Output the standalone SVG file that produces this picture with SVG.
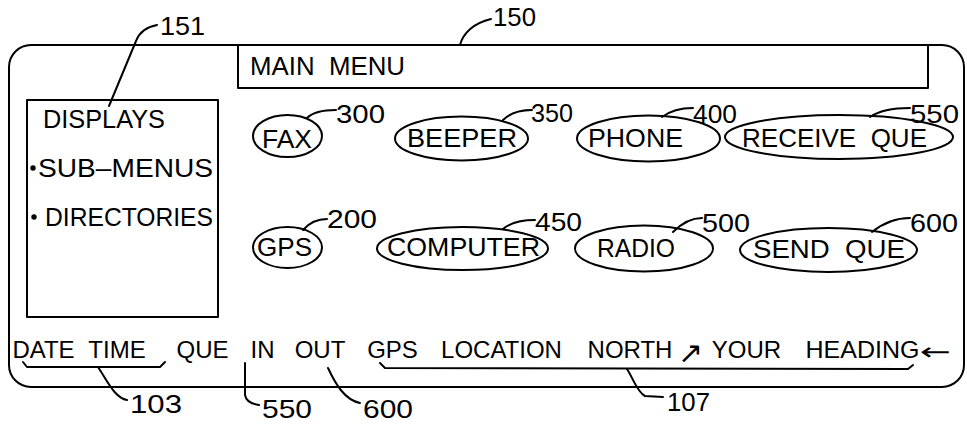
<svg xmlns="http://www.w3.org/2000/svg" width="967" height="425" viewBox="0 0 967 425">
<style>
.ln{fill:none;stroke:#000;stroke-width:2;stroke-linecap:round;stroke-linejoin:round}
.t{font-family:"Liberation Sans",Arial,sans-serif;font-size:25px;fill:#000;white-space:pre}
.b{font-family:"Liberation Sans",Arial,sans-serif;font-size:24px;fill:#000;text-anchor:middle}
.ar{font-family:"DejaVu Sans",sans-serif;fill:#000}
</style>
<rect width="967" height="425" fill="#fff"/>
<g id="screen-150">
<rect class="ln" x="9" y="45" width="955" height="342" rx="22"/>
</g>
<g id="main-menu">
<polyline class="ln" points="238,46 238,88 928,88 928,46"/>
<text class="t" x="250" y="75" textLength="155" lengthAdjust="spacingAndGlyphs">MAIN  MENU</text>
</g>
<g id="displays-151">
<rect class="ln" x="27" y="100" width="191" height="217"/>
<text class="t" x="43" y="128" textLength="122" lengthAdjust="spacingAndGlyphs">DISPLAYS</text>
<circle cx="33" cy="168" r="2.7"/>
<text class="t" x="38" y="177" textLength="175" lengthAdjust="spacingAndGlyphs">SUB–MENUS</text>
<circle cx="34" cy="217" r="2.7"/>
<text class="t" x="45" y="226" textLength="168" lengthAdjust="spacingAndGlyphs">DIRECTORIES</text>
</g>
<g id="fax-300">
<ellipse class="ln" cx="287.5" cy="136" rx="34.5" ry="21"/>
<text class="t" x="262" y="148" textLength="50" lengthAdjust="spacingAndGlyphs">FAX</text>
</g>
<g id="beeper-350">
<ellipse class="ln" cx="461.5" cy="138.5" rx="66.5" ry="22"/>
<text class="t" x="407" y="147" textLength="110" lengthAdjust="spacingAndGlyphs">BEEPER</text>
</g>
<g id="phone-400">
<ellipse class="ln" cx="648.5" cy="138.5" rx="71.5" ry="23"/>
<text class="t" x="588" y="147" textLength="95" lengthAdjust="spacingAndGlyphs">PHONE</text>
</g>
<g id="receive-que-550">
<ellipse class="ln" cx="839" cy="137" rx="114" ry="22"/>
<text class="t" x="742" y="147" textLength="185" lengthAdjust="spacingAndGlyphs">RECEIVE  QUE</text>
</g>
<g id="gps-200">
<ellipse class="ln" cx="287.5" cy="247.5" rx="34.5" ry="20.5"/>
<text class="t" x="257" y="256" textLength="55" lengthAdjust="spacingAndGlyphs">GPS</text>
</g>
<g id="computer-450">
<ellipse class="ln" cx="462.5" cy="248.5" rx="85.5" ry="21.5"/>
<text class="t" x="387" y="256" textLength="153" lengthAdjust="spacingAndGlyphs">COMPUTER</text>
</g>
<g id="radio-500">
<ellipse class="ln" cx="644" cy="248.5" rx="69" ry="23"/>
<text class="t" x="597" y="257" textLength="78" lengthAdjust="spacingAndGlyphs">RADIO</text>
</g>
<g id="send-que-600">
<ellipse class="ln" cx="828.5" cy="250" rx="88.5" ry="22"/>
<text class="t" x="753" y="258" textLength="152" lengthAdjust="spacingAndGlyphs">SEND  QUE</text>
</g>
<g id="status-bar">
<text class="b" x="43.5" y="358">DATE</text>
<text class="b" x="117" y="358">TIME</text>
<text class="b" x="202.5" y="358">QUE</text>
<text class="b" x="262.5" y="358">IN</text>
<text class="b" x="320" y="358">OUT</text>
<text class="b" x="392.5" y="358">GPS</text>
<text class="b" x="501.5" y="358">LOCATION</text>
<text class="b" x="630" y="358">NORTH</text>
<text class="ar" x="678" y="363" font-size="30">↗</text>
<text class="b" x="746.5" y="358">YOUR</text>
<text class="b" x="862.5" y="358" textLength="114" lengthAdjust="spacingAndGlyphs">HEADING</text>
<text class="ar" x="920" y="360" font-size="24" textLength="31" lengthAdjust="spacingAndGlyphs">←</text>
</g>
<g id="labels">
<text class="t" x="160" y="35" textLength="45" lengthAdjust="spacingAndGlyphs">151</text>
<text class="t" x="493" y="26" textLength="43" lengthAdjust="spacingAndGlyphs">150</text>
<text class="t" x="336" y="123" textLength="49" lengthAdjust="spacingAndGlyphs">300</text>
<text class="t" x="531" y="122" textLength="42" lengthAdjust="spacingAndGlyphs">350</text>
<text class="t" x="693" y="123" textLength="44" lengthAdjust="spacingAndGlyphs">400</text>
<text class="t" x="910" y="123" textLength="49" lengthAdjust="spacingAndGlyphs">550</text>
<text class="t" x="327" y="228" textLength="50" lengthAdjust="spacingAndGlyphs">200</text>
<text class="t" x="535" y="231" textLength="47" lengthAdjust="spacingAndGlyphs">450</text>
<text class="t" x="702" y="232" textLength="48" lengthAdjust="spacingAndGlyphs">500</text>
<text class="t" x="910" y="232" textLength="48" lengthAdjust="spacingAndGlyphs">600</text>
<text class="t" x="130" y="413" textLength="52" lengthAdjust="spacingAndGlyphs">103</text>
<text class="t" x="262" y="418" textLength="50" lengthAdjust="spacingAndGlyphs">550</text>
<text class="t" x="363" y="418" textLength="50" lengthAdjust="spacingAndGlyphs">600</text>
<text class="t" x="667" y="411" textLength="43" lengthAdjust="spacingAndGlyphs">107</text>
</g>
<g id="connectors">
<path class="ln" d="M157,25 C146,27 139,33 136,41 L109,106"/>
<path class="ln" d="M460,45 C463,33 474,23 491,19"/>
<path class="ln" d="M307,118 C313,112 322,110 336,110"/>
<path class="ln" d="M503,120 C510,113 519,110 532,110"/>
<path class="ln" d="M662,117 C670,111 680,108 693,108"/>
<path class="ln" d="M870,117 C880,110 893,108 910,108"/>
<path class="ln" d="M303,230 C309,223 316,219 327,219"/>
<path class="ln" d="M503,229 C511,222 521,220 535,220"/>
<path class="ln" d="M673,232 C681,224 690,218 702,218"/>
<path class="ln" d="M872,232 C882,224 895,218 910,218"/>
<path class="ln" d="M23,362 L27,367 L160,367 L165,362"/>
<path class="ln" d="M98,367 C108,382 115,398 127,400"/>
<path class="ln" d="M245,363 L245,395 C246,401 252,404 259,405"/>
<path class="ln" d="M328,368 C336,385 345,400 360,403"/>
<path class="ln" d="M380,363 L385,368 L908,369 L913,365"/>
<path class="ln" d="M627,369 C633,378 637,392 645,396 L663,397"/>
</g>
</svg>
